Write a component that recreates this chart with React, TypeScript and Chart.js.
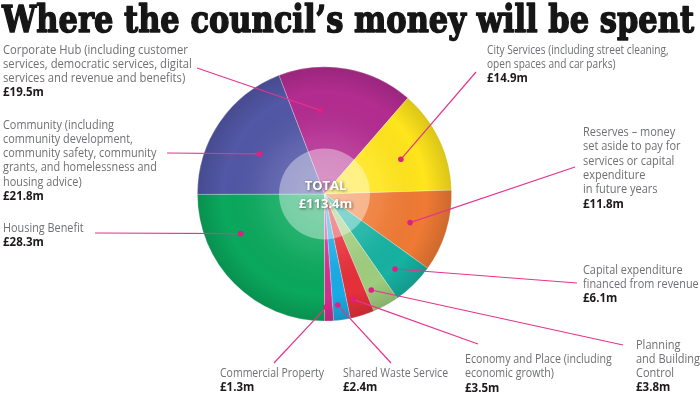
import React, { useEffect, useRef } from "react";
import { Chart, registerables } from "chart.js";

Chart.register(...registerables);

const titleText = "Where the council\u2019s money will be spent";

const categories = [
  "Housing Benefit",
  "Community",
  "Corporate Hub",
  "City Services",
  "Reserves",
  "Capital expenditure",
  "Planning and Building Control",
  "Economy and Place",
  "Shared Waste Service",
  "Commercial Property",
];

const values = [28.3, 21.8, 19.5, 14.9, 11.8, 6.1, 3.8, 3.5, 2.4, 1.3];

const valueLabels = ["£28.3m", "£21.8m", "£19.5m", "£14.9m", "£11.8m", "£6.1m", "£3.8m", "£3.5m", "£2.4m", "£1.3m"];

const descriptions: string[][] = [
  ["Housing Benefit"],
  ["Community (including", "community development,", "community safety, community", "grants, and homelessness and", "housing advice)"],
  ["Corporate Hub (including customer", "services, democratic services, digital", "services and revenue and benefits)"],
  ["City Services (including street cleaning,", "open spaces and car parks)"],
  ["Reserves \u2013 money", "set aside to pay for", "services or capital", "expenditure", "in future years"],
  ["Capital expenditure", "financed from revenue"],
  ["Planning", "and Building", "Control"],
  ["Economy and Place (including", "economic growth)"],
  ["Shared Waste Service"],
  ["Commercial Property"],
];

const totalCaption = "TOTAL";
const totalLabel = "£113.4m";

const sliceColors = [
  "#0aa85c",
  "#5257a6",
  "#b32c90",
  "#ffe51c",
  "#ef7a34",
  "#16b2a2",
  "#9fcd7e",
  "#e6303a",
  "#18abe3",
  "#d0308f",
];

// layout of annotation text: text x, first line middle y, horizontal squeeze,
// leader end point, and where the dot sits within the slice
// (fraction of slice angle, fraction of radius)
const labelLayout = [
  { x: 3, y: 228.5, sq: 0.87, end: [95, 233], dot: [0.72, 0.73] },
  { x: 3, y: 125, sq: 0.87, end: [167, 153], dot: [0.46, 0.6] },
  { x: 3, y: 50, sq: 0.9, end: [197, 68], dot: [0.29, 0.66] },
  { x: 487, y: 50, sq: 0.81, end: [476, 72], dot: [0.52, 0.66] },
  { x: 583, y: 132.5, sq: 0.88, end: [575, 167], dot: [0.54, 0.71] },
  { x: 583, y: 270, sq: 0.87, end: [577, 283], dot: [0.57, 0.81] },
  { x: 636, y: 345, sq: 0.88, end: [623, 345], dot: [0.74, 0.84] },
  { x: 465, y: 359.5, sq: 0.85, end: [478, 344], dot: [0.68, 0.86] },
  { x: 343, y: 373.5, sq: 0.84, end: [391, 363], dot: [0.65, 0.88] },
  { x: 220, y: 373.5, sq: 0.84, end: [274, 363], dot: [0.78, 0.89] },
];

const LINE_H = 14.3;
const VALUE_SQ = 0.92;

const decorPlugin = {
  id: "decor",
  afterDatasetsDraw(chart: any) {
    const ctx: CanvasRenderingContext2D = chart.ctx;
    const meta = chart.getDatasetMeta(0);
    const arcs = meta.data;
    if (!arcs.length) return;
    const cx = arcs[0].x;
    const cy = arcs[0].y;
    const R = arcs[0].outerRadius;

    // radial shading
    ctx.save();
    ctx.beginPath();
    ctx.arc(cx, cy, R, 0, Math.PI * 2);
    ctx.clip();
    const g = ctx.createRadialGradient(cx, cy, 0, cx, cy, R);
    g.addColorStop(0, "rgba(255,255,255,0.22)");
    g.addColorStop(0.45, "rgba(255,255,255,0.08)");
    g.addColorStop(0.8, "rgba(0,0,0,0.0)");
    g.addColorStop(1, "rgba(0,0,0,0.14)");
    ctx.fillStyle = g;
    ctx.fillRect(cx - R, cy - R, 2 * R, 2 * R);
    ctx.restore();

    // centre disc
    ctx.save();
    ctx.beginPath();
    ctx.arc(cx, cy, 45.5, 0, Math.PI * 2);
    ctx.fillStyle = "rgba(255,255,255,0.38)";
    ctx.fill();
    ctx.font = "bold 13px 'Open Sans', sans-serif";
    ctx.textAlign = "center";
    ctx.textBaseline = "middle";
    ctx.shadowColor = "rgba(0,0,0,0.55)";
    ctx.shadowBlur = 3;
    ctx.shadowOffsetX = 1;
    ctx.shadowOffsetY = 1;
    ctx.fillStyle = "#ffffff";
    ctx.fillText(totalCaption, cx + 1, cy - 8);
    ctx.fillText(totalLabel, cx + 1, cy + 10);
    ctx.restore();

    // leader lines and dots
    ctx.save();
    arcs.forEach((arc: any, i: number) => {
      const lay = labelLayout[i];
      const a = arc.startAngle + (arc.endAngle - arc.startAngle) * lay.dot[0];
      const r = R * lay.dot[1];
      const dx = cx + Math.cos(a) * r;
      const dy = cy + Math.sin(a) * r;
      ctx.strokeStyle = "#e5358c";
      ctx.lineWidth = 1.2;
      ctx.beginPath();
      ctx.moveTo(lay.end[0], lay.end[1]);
      ctx.lineTo(dx, dy);
      ctx.stroke();
      ctx.fillStyle = "#df1f84";
      ctx.beginPath();
      ctx.arc(dx, dy, 2.8, 0, Math.PI * 2);
      ctx.fill();
    });
    ctx.restore();
  },
  afterDraw(chart: any) {
    const ctx: CanvasRenderingContext2D = chart.ctx;
    // labels
    ctx.save();
    ctx.textBaseline = "middle";
    ctx.textAlign = "left";
    categories.forEach((_c, i) => {
      const lay = labelLayout[i];
      const lines = descriptions[i];
      ctx.save();
      ctx.translate(lay.x, 0);
      ctx.scale(lay.sq, 1);
      ctx.font = "12.5px 'Open Sans', sans-serif";
      ctx.fillStyle = "#6f7073";
      lines.forEach((ln, j) => {
        ctx.fillText(ln, 0, lay.y + j * LINE_H);
      });
      ctx.restore();
      ctx.save();
      ctx.translate(lay.x, 0);
      ctx.scale(VALUE_SQ, 1);
      ctx.font = "bold 12.5px 'Open Sans', sans-serif";
      ctx.fillStyle = "#1e1a1b";
      ctx.fillText(valueLabels[i], 0, lay.y + lines.length * LINE_H);
      ctx.restore();
    });
    ctx.restore();

    // title
    ctx.save();
    ctx.font = "bold 38px 'DejaVu Serif', serif";
    ctx.textBaseline = "alphabetic";
    ctx.textAlign = "left";
    const w = ctx.measureText(titleText).width;
    const target = 692;
    ctx.translate(2, 32);
    ctx.scale(target / w, 1);
    ctx.fillStyle = "#161616";
    ctx.strokeStyle = "#161616";
    ctx.lineWidth = 1.6;
    ctx.lineJoin = "round";
    ctx.fillText(titleText, 0, 0);
    ctx.strokeText(titleText, 0, 0);
    ctx.restore();
  },
};

export default function App() {
  const ref = useRef<HTMLCanvasElement | null>(null);
  useEffect(() => {
    if (!ref.current) return;
    const chart = new Chart(ref.current, {
      type: "pie",
      data: {
        labels: categories,
        datasets: [
          {
            data: values,
            backgroundColor: sliceColors,
            borderColor: "rgba(255,255,255,0.35)",
            borderWidth: 0.8,
          },
        ],
      },
      options: {
        responsive: false,
        animation: false,
        rotation: 180,
        layout: { padding: { left: 197, top: 66, right: 248, bottom: 71 } },
        plugins: {
          legend: { display: false },
          tooltip: { enabled: false },
          title: { display: false },
        },
      },
      plugins: [decorPlugin],
    });
    return () => chart.destroy();
  }, []);
  return (
    <div style={{ position: "absolute", left: 0, top: 0, width: 700, height: 393, background: "#ffffff" }}>
      <canvas ref={ref} width={700} height={393} style={{ display: "block" }} />
    </div>
  );
}
